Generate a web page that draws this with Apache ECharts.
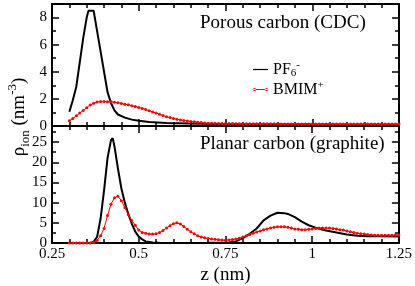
<!DOCTYPE html>
<html>
<head>
<meta charset="utf-8">
<script src="https://cdn.jsdelivr.net/npm/echarts@6/dist/echarts.min.js"></script>
<style>html,body{margin:0;padding:0;background:#fff}#c{width:415px;height:286px}</style>
</head>
<body>
<div id="c"></div>
<script>
// ---- data ----
const xTicks = [0.25, 0.5, 0.75, 1, 1.25];
const topYTicks = [0, 2, 4, 6, 8];
const botYTicks = [0, 5, 10, 15, 20, 25];
const panelLabels = ['Porous carbon (CDC)', 'Planar carbon (graphite)'];
const seriesNames = ['PF6-', 'BMIM+'];

// PF6- (porous carbon, top panel)
const zPf6Top = [0.30,0.31,0.32,0.33,0.34,0.35,0.355,0.37,0.38,0.39,0.40,0.41,0.42,0.43,0.44,0.46,0.48,0.50,0.53,0.58,0.68,0.80,1.00,1.25];
const pf6Top  = [1.05,1.9,2.9,4.7,6.5,8.0,8.5,8.5,7.0,5.5,4.0,2.5,1.7,1.15,0.85,0.62,0.47,0.39,0.3,0.22,0.17,0.13,0.11,0.1];

// PF6- (planar carbon, bottom panel)
const zPf6Bot = [0.30,0.36,0.37,0.38,0.39,0.40,0.41,0.42,0.425,0.43,0.44,0.45,0.46,0.47,0.48,0.49,0.50,0.51,0.52,0.54,0.56,0.60,0.70,0.76,0.78,0.80,0.82,0.84,0.86,0.88,0.90,0.92,0.93,0.95,0.97,0.99,1.01,1.04,1.07,1.10,1.13,1.16,1.20,1.25];
const pf6Bot  = [0,0,0.3,1.5,6,13,21,25.5,26,24,18.5,13.5,10,7.2,4.8,2.8,1.6,0.9,0.4,0.15,0.05,0,0.05,0.15,0.4,1.2,2.3,3.6,5.6,6.8,7.5,7.4,7.2,6.4,5.3,4.4,3.8,3.1,2.6,2.1,1.8,1.7,1.65,1.6];

// BMIM+ sample positions (both panels)
const zBmim = [0.30,0.31,0.32,0.33,0.34,0.35,0.36,0.37,0.38,0.39,
  0.40,0.41,0.42,0.43,0.44,0.45,0.46,0.47,0.48,0.49,
  0.50,0.51,0.52,0.53,0.54,0.55,0.56,0.57,0.58,0.59,
  0.60,0.61,0.62,0.63,0.64,0.65,0.66,0.67,0.68,0.69,
  0.70,0.71,0.72,0.73,0.74,0.75,0.76,0.77,0.78,0.79,
  0.80,0.81,0.82,0.83,0.84,0.85,0.86,0.87,0.88,0.89,
  0.90,0.91,0.92,0.93,0.94,0.95,0.96,0.97,0.98,0.99,
  1.00,1.01,1.02,1.03,1.04,1.05,1.06,1.07,1.08,1.09,
  1.10,1.11,1.12,1.13,1.14,1.15,1.16,1.17,1.18,1.19,
  1.20,1.21,1.22,1.23,1.24,1.25];
const bmimTop = [0.38,0.55,0.75,0.95,1.15,1.35,1.55,1.68,1.77,1.8,
  1.8,1.79,1.78,1.75,1.71,1.66,1.61,1.56,1.5,1.44,
  1.37,1.3,1.22,1.13,1.04,0.95,0.86,0.77,0.69,0.62,
  0.56,0.5,0.45,0.41,0.37,0.34,0.31,0.28,0.25,0.23,
  0.21,0.2,0.2,0.19,0.19,0.18,0.18,0.18,0.17,0.17,
  0.17,0.17,0.17,0.16,0.16,0.16,0.16,0.16,0.16,0.16,
  0.16,0.15,0.15,0.15,0.15,0.15,0.15,0.15,0.15,0.15,
  0.15,0.15,0.15,0.15,0.15,0.15,0.15,0.15,0.15,0.15,
  0.14,0.14,0.14,0.14,0.14,0.14,0.14,0.14,0.14,0.14,
  0.14,0.14,0.14,0.14,0.14,0.14];
const bmimBot = [0,0,0,0,0,0,0,0.1,0.6,1.8,
  3.6,6.8,9.6,11.2,11.6,10.5,8.8,7.0,5.6,4.4,
  3.2,2.6,2.4,2.2,2.2,2.3,2.6,3.1,3.7,4.3,
  4.8,5.0,4.7,4.1,3.4,2.8,2.3,1.8,1.5,1.3,
  1.1,1.0,0.9,0.8,0.75,0.7,0.75,0.85,1.0,1.2,
  1.5,1.8,2.1,2.4,2.7,3.0,3.3,3.5,3.7,3.9,
  4.0,4.0,4.0,3.9,3.7,3.5,3.4,3.3,3.3,3.4,
  3.5,3.6,3.7,3.7,3.7,3.7,3.6,3.5,3.3,3.2,
  3.0,2.8,2.6,2.4,2.3,2.2,2.1,2.0,1.95,1.9,
  1.9,1.9,1.9,1.95,2.0,2.0];

// ---- chart ----
const FONT = 'Liberation Serif';
const pairs = (xs, ys) => xs.map((x, i) => [x, ys[i]]);
const tickRich = { s: { fontFamily: FONT, fontSize: 15, color: '#000' } };

function xAx(gi, pos, labels, name) {
  return {
    type: 'value', gridIndex: gi, position: pos,
    min: xTicks[0], max: xTicks[xTicks.length - 1], interval: xTicks[1] - xTicks[0],
    axisLine: { show: true, onZero: false, lineStyle: { color: '#000', width: 2 } },
    axisTick: { show: true, inside: true, length: 7, lineStyle: { color: '#000', width: 1.5 } },
    minorTick: { show: true, splitNumber: 5, length: 4, lineStyle: { color: '#000', width: 1.5 } },
    axisLabel: { show: labels, color: '#000', fontFamily: FONT, fontSize: 15, margin: 4,
      formatter: v => '{s|' + v + '}', rich: tickRich },
    splitLine: { show: false },
    name: name || '', nameLocation: 'middle', nameGap: 23,
    nameTextStyle: { color: '#000', fontFamily: FONT, fontSize: 19 }
  };
}
function yAx(gi, pos, labels, ticks, maxV) {
  return {
    type: 'value', gridIndex: gi, position: pos,
    min: ticks[0], max: maxV, interval: ticks[1] - ticks[0],
    axisLine: { show: true, onZero: false, lineStyle: { color: '#000', width: 2 } },
    axisTick: { show: true, inside: true, length: 7, lineStyle: { color: '#000', width: 1.5 } },
    minorTick: { show: true, splitNumber: 2, length: 4, lineStyle: { color: '#000', width: 1.5 } },
    axisLabel: { show: labels, color: '#000', fontFamily: FONT, fontSize: 15, margin: 5, showMaxLabel: false,
      formatter: v => '{s|' + v + '}', rich: tickRich },
    splitLine: { show: false }
  };
}

const blackLine = { color: '#000', width: 2 };
const redLine = { color: '#ff0000', width: 1 };

const chart = echarts.init(document.getElementById('c'), null, { renderer: 'canvas' });
chart.setOption({
  animation: false,
  backgroundColor: '#fff',
  textStyle: { fontFamily: FONT, color: '#000' },
  grid: [
    { left: 52, right: 16, top: 4, height: 122 },
    { left: 52, right: 16, top: 126, height: 122 }
  ],
  xAxis: [
    xAx(0, 'bottom', false), xAx(0, 'top', false),
    xAx(1, 'bottom', true, 'z (nm)'), xAx(1, 'top', false)
  ],
  yAxis: [
    yAx(0, 'left', true, topYTicks, 9), yAx(0, 'right', false, topYTicks, 9),
    yAx(1, 'left', true, botYTicks, 29), yAx(1, 'right', false, botYTicks, 29)
  ],
  legend: {
    orient: 'vertical', left: 248, top: 55, itemGap: 1,
    itemWidth: 15, itemHeight: 4,
    data: [
      { name: seriesNames[0], icon: 'path://M0,1.4H15V2.6H0Z' },
      { name: seriesNames[1], icon: 'path://M0,1.6H15V2.4H0Z M0,2a1.5,1.5 0 1,0 3,0a1.5,1.5 0 1,0 -3,0Z M12,2a1.5,1.5 0 1,0 3,0a1.5,1.5 0 1,0 -3,0Z' }
    ],
    formatter: n => n === seriesNames[0] ? '{m|PF}{b|6}{t|-}' : '{m|BMIM}{t|+}',
    textStyle: {
      color: '#000', fontFamily: FONT, fontSize: 16,
      rich: {
        m: { fontFamily: FONT, fontSize: 16, lineHeight: 19, verticalAlign: 'middle', color: '#000' },
        b: { fontFamily: FONT, fontSize: 11, lineHeight: 11, verticalAlign: 'bottom', color: '#000' },
        t: { fontFamily: FONT, fontSize: 11, lineHeight: 11, verticalAlign: 'top', color: '#000' }
      }
    }
  },
  graphic: [
    { type: 'text', left: 200, top: 14, style: { text: panelLabels[0], font: '19px ' + FONT, fill: '#000' } },
    { type: 'text', left: 200, top: 135, style: { text: panelLabels[1], font: '19px ' + FONT, fill: '#000' } },
    {
      type: 'text', x: 19, y: 117, rotation: Math.PI / 2,
      style: {
        text: '{m|ρ}{b|ion}{m| (nm}{t|-3}{m|)}',
        align: 'center', verticalAlign: 'middle', fill: '#000',
        rich: {
          m: { fontFamily: FONT, fontSize: 19, lineHeight: 26, verticalAlign: 'middle', fill: '#000' },
          b: { fontFamily: FONT, fontSize: 13, lineHeight: 13, verticalAlign: 'bottom', fill: '#000' },
          t: { fontFamily: FONT, fontSize: 13, lineHeight: 13, verticalAlign: 'top', fill: '#000' }
        }
      }
    }
  ],
  series: [
    { name: seriesNames[0], type: 'line', xAxisIndex: 0, yAxisIndex: 0, data: pairs(zPf6Top, pf6Top),
      showSymbol: false, symbol: 'none', lineStyle: blackLine, itemStyle: { color: '#000' } },
    { name: seriesNames[1], type: 'line', xAxisIndex: 0, yAxisIndex: 0, data: pairs(zBmim, bmimTop),
      symbol: 'circle', symbolSize: 3, lineStyle: redLine, itemStyle: { color: '#ff0000' } },
    { name: seriesNames[0], type: 'line', xAxisIndex: 2, yAxisIndex: 2, data: pairs(zPf6Bot, pf6Bot),
      showSymbol: false, symbol: 'none', lineStyle: blackLine, itemStyle: { color: '#000' } },
    { name: seriesNames[1], type: 'line', xAxisIndex: 2, yAxisIndex: 2, data: pairs(zBmim, bmimBot),
      symbol: 'circle', symbolSize: 3, lineStyle: redLine, itemStyle: { color: '#ff0000' } }
  ]
});
</script>
</body>
</html>
